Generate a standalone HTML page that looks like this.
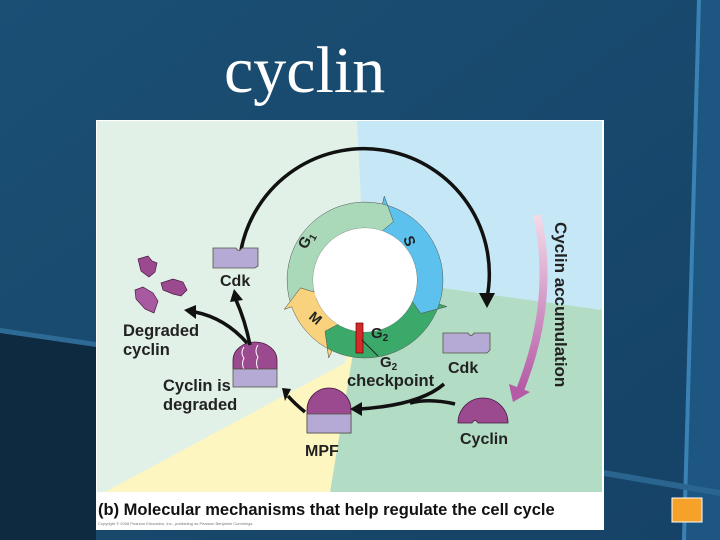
<!DOCTYPE html>
<html><head><meta charset="utf-8"><style>
html,body{margin:0;padding:0;}
body{width:720px;height:540px;overflow:hidden;position:relative;background:#174a6e;font-family:"Liberation Sans",sans-serif;}
</style></head><body>
<svg width="720" height="540" style="position:absolute;left:0;top:0" xmlns="http://www.w3.org/2000/svg">
<defs>
<linearGradient id="bg" x1="0" y1="0" x2="1" y2="1"><stop offset="0" stop-color="#1b4f74"/><stop offset="1" stop-color="#154266"/></linearGradient>
<linearGradient id="pk" x1="0" y1="0" x2="0" y2="1"><stop offset="0" stop-color="#f3dbe9"/><stop offset="1" stop-color="#b45aa6"/></linearGradient>
</defs>
<rect width="720" height="540" fill="url(#bg)"/>
<polygon points="0,330 96,345 96,540 0,540" fill="#0e2a40"/>
<polygon points="0,328 96,342 96,347 0,333" fill="#2d6b96"/>
<polygon points="697,0 720,0 720,540 682,540" fill="#1d5680"/>
<polygon points="697,0 701,0 686,540 682,540" fill="#3a82b4"/>
<polygon points="604,470 720,490 720,496 604,476" fill="#2a6590"/>
<text x="224" y="92" font-family="Liberation Serif,serif" font-size="66" fill="#fff">cyclin</text>
<!-- panel -->
<rect x="96" y="120" width="508" height="410" fill="#fff"/>
<rect x="97" y="121" width="505" height="371" fill="#e1f1e7"/>
<polygon points="357,121 602,121 602,310 442,288 365,280" fill="#c6e7f5"/>
<polygon points="365,280 442,288 602,310 602,492 330,492" fill="#b2dcc3"/>
<polygon points="365,280 330,492 105,492 345,363" fill="#fdf6c0"/>
<g id="ring"></g>
<circle cx="365" cy="280" r="52" fill="#fff"/>
<!-- big arc -->
<path d="M241,250 A125,125 0 1 1 487,298" fill="none" stroke="#111" stroke-width="3.5"/>
<polygon points="479,293 495,293 487,308" fill="#111"/>
<!-- G2 checkpoint -->
<rect x="356" y="323" width="7" height="30" fill="#d42a2a" stroke="#600" stroke-width="0.7"/>
<line x1="362" y1="340" x2="378" y2="356" stroke="#222" stroke-width="1"/>
<!-- Cdk top -->
<path d="M213,248 H236 q3,5 6,0 H258 V266 l-3,2 H213 Z" fill="#b5a9d6" stroke="#554" stroke-width="0.8"/>
<text x="220" y="286" font-size="16" font-weight="bold" fill="#222">Cdk</text>
<!-- Cdk right -->
<path d="M443,333 H468 q3,5 6,0 H490 V350 l-3,3 H443 Z" fill="#b5a9d6" stroke="#554" stroke-width="0.8"/>
<text x="448" y="373" font-size="16" font-weight="bold" fill="#222">Cdk</text>
<!-- Cyclin -->
<path d="M458,423 A25,25 0 0 1 508,423 H478 q-3,-5 -6,0 Z" fill="#9b4a8f" stroke="#4a1a44" stroke-width="0.8"/>
<text x="460" y="444" font-size="16" font-weight="bold" fill="#222">Cyclin</text>
<!-- MPF -->
<path d="M307,410 A22,22 0 0 1 351,410 V433 H307 Z" fill="#9b4a8f" stroke="#4a1a44" stroke-width="0.8"/>
<rect x="307" y="414" width="44" height="19" fill="#b5a9d6" stroke="#554" stroke-width="0.8"/>
<text x="305" y="456" font-size="16" font-weight="bold" fill="#222">MPF</text>
<!-- cyclin degraded complex -->
<path d="M233,369 V360 A22,18 0 0 1 277,360 V369 Z" fill="#9b4a8f" stroke="#4a1a44" stroke-width="0.8"/>
<path d="M244,347 q-4,6 0,11 q-3,6 0,11 M258,345 q-4,6 0,12 q-3,6 0,12" stroke="#fff" stroke-width="1" fill="none"/>
<rect x="233" y="369" width="44" height="18" fill="#b5a9d6" stroke="#554" stroke-width="0.8"/>
<text x="163" y="391" font-size="16.5" font-weight="bold" fill="#222">Cyclin is</text>
<text x="163" y="410" font-size="16.5" font-weight="bold" fill="#222">degraded</text>
<!-- fragments -->
<path d="M138,259 l10,-3 l4,5 l5,2 l-2,9 l-6,5 l-8,-6 Z" fill="#9b4a8f" stroke="#4a1a44" stroke-width="0.7"/>
<path d="M161,283 l12,-4 l10,3 l4,8 l-6,6 l-8,-2 l-10,-4 Z" fill="#9b4a8f" stroke="#4a1a44" stroke-width="0.7"/>
<path d="M135,290 l8,-3 l10,6 l5,8 l-4,12 l-9,-4 l-9,-10 Z" fill="#a85aa0" stroke="#4a1a44" stroke-width="0.7"/>
<text x="123" y="336" font-size="16.5" font-weight="bold" fill="#222">Degraded</text>
<text x="123" y="355" font-size="16.5" font-weight="bold" fill="#222">cyclin</text>
<!-- black arrows -->
<g fill="none" stroke="#111" stroke-width="3.5">
<path d="M250,345 Q245,320 236,300"/>
<path d="M247,343 Q225,318 195,312"/>
<path d="M305,412 Q295,404 288,396"/>
<path d="M444,384 Q420,405 360,409"/>
<path d="M455,404 Q430,398 410,403"/>
</g>
<polygon points="230,302 243,300 234,289" fill="#111"/>
<polygon points="196,305 196,319 184,310" fill="#111"/>
<polygon points="291,389 285,401 282,388" fill="#111"/>
<polygon points="362,402 362,416 350,409" fill="#111"/>
<!-- cyclin accumulation -->
<path d="M537,215 Q556,300 520,390" fill="none" stroke="url(#pk)" stroke-width="8"/>
<polygon points="509,384 530,392 513,402" fill="#b45aa6"/>
<text transform="translate(555,222) rotate(90)" font-size="17" font-weight="bold" fill="#222">Cyclin accumulation</text>
<!-- ring labels -->
<text transform="translate(306,250) rotate(-60)" font-size="15" font-weight="bold" fill="#222">G<tspan font-size="10" dy="3">1</tspan></text>
<text transform="translate(403,238) rotate(70)" font-size="15" font-weight="bold" fill="#222">S</text>
<text transform="translate(308,318) rotate(40)" font-size="14" font-weight="bold" fill="#222">M</text>
<text x="371" y="338" font-size="15" font-weight="bold" fill="#222">G<tspan font-size="10" dy="3">2</tspan></text>
<text x="380" y="367" font-size="15" font-weight="bold" fill="#222">G<tspan font-size="10" dy="3">2</tspan></text>
<text x="347" y="386" font-size="16.5" font-weight="bold" fill="#222">checkpoint</text>
<!-- caption -->
<text x="98" y="515" font-size="16.5" font-weight="bold" fill="#111">(b) Molecular mechanisms that help regulate the cell cycle</text>
<text x="98" y="525" font-size="4" fill="#777">Copyright © 2008 Pearson Education, Inc., publishing as Pearson Benjamin Cummings.</text>
<rect x="672" y="498" width="30" height="24" fill="#f5a12a" stroke="#fff" stroke-width="1"/>
</svg>
<script>
(function(){
var cx=365,cy=280,r1=52,r2=78,NS="http://www.w3.org/2000/svg";
function p(a,r){a=a*Math.PI/180;return (cx+r*Math.cos(a)).toFixed(1)+","+(cy+r*Math.sin(a)).toFixed(1);}
function seg(a0,a1,col){
 var L=(a1-a0)>180?1:0;
 var d="M"+p(a0,r2)+" A"+r2+","+r2+" 0 "+L+" 1 "+p(a1,r2)+" L"+p(a1,r2+8)+" L"+p(a1+13,65)+" L"+p(a1,r1-8)+" L"+p(a1,r1)+" A"+r1+","+r1+" 0 "+L+" 0 "+p(a0,r1)+" L"+p(a0,r1-8)+" L"+p(a0+13,65)+" L"+p(a0,r2+8)+" Z";
 var e=document.createElementNS(NS,"path");e.setAttribute("d",d);e.setAttribute("fill",col);e.setAttribute("stroke","#555");e.setAttribute("stroke-width","0.5");
 document.getElementById("ring").appendChild(e);}
seg(160,283,"#a9d9b9");
seg(283,378,"#5cc1ec");
seg(18,115,"#3aa96a");
seg(115,160,"#f8d27c");
})();
</script>
</body></html>
